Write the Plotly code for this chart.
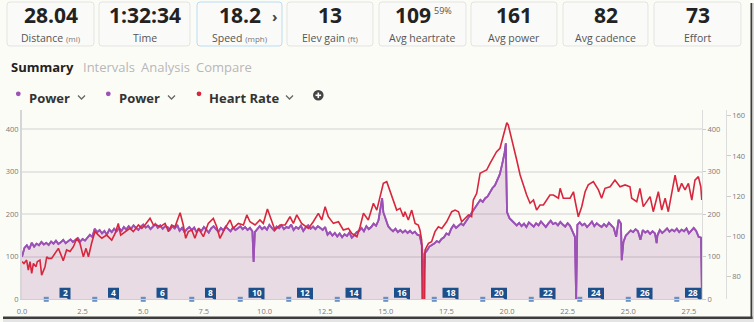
import plotly.graph_objects as go

FIG_W, FIG_H = 754, 322

# ---------------- ride summary tiles ----------------
tile_values = ["28.04", "1:32:34", "18.2", "13", "109", "161", "82", "73"]
tile_labels = ["Distance", "Time", "Speed", "Elev gain", "Avg heartrate", "Avg power", "Avg cadence", "Effort"]
tile_units = ["(mi)", "", "(mph)", "(ft)", "", "", "", ""]
hr_percent = "59%"

# ---------------- tabs / series selector ----------------
tab_names = ["Summary", "Intervals", "Analysis", "Compare"]
series_names = ["Power", "Power", "Heart Rate"]

# ---------------- power (W) sampled every 0.1 mi, 0.0 .. 28.0 ----------------
power_w_grid = [
    100, 121, 127, 118, 133, 124, 131, 127, 135, 129,
    133, 128, 136, 131, 138, 130, 134, 140, 132, 137,
    141, 135, 139, 144, 136, 142, 138, 145, 152, 147,
    166, 158, 163, 155, 161, 152, 164, 158, 166, 160,
    168, 161, 170, 164, 172, 166, 174, 168, 163, 171,
    176, 169, 173, 165, 171, 177, 168, 174, 166, 172,
    170, 164, 172, 167, 175, 161, 168, 158, 165, 170,
    163, 169, 158, 166, 161, 170, 164, 157, 167, 172,
    165, 159, 168, 162, 171, 166, 160, 169, 163, 167,
    172, 165, 170, 163, 168, 160, 158, 166, 172, 165,
    170, 164, 175, 168, 162, 171, 167, 174, 165, 170,
    168, 176, 163, 170, 166, 173, 161, 169, 174, 166,
    171, 165, 172, 168, 163, 170, 152, 158, 150, 156,
    148, 155, 146, 153, 149, 157, 145, 151, 158, 161,
    168, 160, 172, 165, 170, 178, 173, 186, 226, 205,
    186, 172, 165, 160, 166, 158, 163, 157, 162, 156,
    161, 155, 159, 152, 150, 124, 108, 115, 124, 128,
    131, 137, 134, 142, 146, 155, 152, 166, 175, 168,
    172, 178, 174, 183, 190, 198, 210, 216, 228, 234,
    229, 238, 242, 252, 262, 268, 281, 294, 318, 345,
    205, 191, 186, 179, 174, 180, 172, 178, 170, 181,
    175, 171, 179, 174, 183, 176, 170, 178, 185, 177,
    180, 174, 182, 176, 171, 179, 173, 160, 147, 175,
    181, 174, 178, 170, 176, 183, 172, 179, 174, 170,
    177, 171, 180, 174, 168, 147, 187, 178, 135, 150,
    156, 162, 158, 165, 160, 140, 163, 157, 161, 154,
    160, 155, 150, 163, 156, 161, 167, 159, 164, 160,
    166, 158, 164, 160, 167, 155, 163, 168, 161, 147,
    145,
]
# short events between the 0.1 mi samples (dropouts, sprints, stops)
power_event_mi = [9.55, 14.85, 16.55, 19.95, 19.99, 22.85, 24.73, 26.17, 28.02, 28.04]
power_event_w = [88, 238, 0, 367, 218, 0, 92, 132, 85, 0]

# ---------------- heart rate (bpm) ----------------
hr_mi = [
    0.00, 0.08, 0.19, 0.26, 0.33, 0.40, 0.47, 0.58, 0.63, 0.74,
    0.81, 0.95, 1.02, 1.09, 1.22, 1.36, 1.50, 1.64, 1.70, 1.84,
    1.98, 2.12, 2.26, 2.39, 2.53, 2.64, 2.74, 2.87, 3.01, 3.15,
    3.29, 3.49, 3.70, 3.84, 3.97, 4.07, 4.25, 4.45, 4.59, 4.80,
    4.94, 5.07, 5.28, 5.42, 5.55, 5.69, 5.90, 6.04, 6.17, 6.31,
    6.52, 6.65, 6.75, 6.86, 7.00, 7.13, 7.27, 7.48, 7.68, 7.89,
    8.03, 8.16, 8.37, 8.58, 8.71, 8.92, 9.13, 9.27, 9.40, 9.61,
    9.81, 9.95, 10.12, 10.29, 10.43, 10.64, 10.85, 11.05, 11.19, 11.33,
    11.53, 11.81, 12.01, 12.22, 12.36, 12.50, 12.63, 12.84, 13.05, 13.25,
    13.46, 13.60, 13.81, 13.94, 14.08, 14.28, 14.49, 14.63, 14.90, 15.04,
    15.18, 15.31, 15.45, 15.59, 15.73, 15.79, 15.93, 16.07, 16.21, 16.34,
    16.41, 16.48, 16.55, 16.62, 16.76, 16.89, 17.03, 17.17, 17.31, 17.51,
    17.72, 17.86, 18.00, 18.13, 18.27, 18.41, 18.54, 18.61, 18.75, 18.89,
    19.02, 19.16, 19.30, 19.44, 19.57, 19.71, 19.85, 19.99, 20.05, 20.12,
    20.26, 20.40, 20.54, 20.67, 20.81, 20.95, 21.09, 21.22, 21.36, 21.50,
    21.64, 21.77, 21.91, 22.12, 22.19, 22.32, 22.60, 22.74, 22.80, 22.94,
    23.08, 23.22, 23.35, 23.56, 23.77, 23.90, 24.04, 24.25, 24.45, 24.66,
    24.87, 25.07, 25.14, 25.35, 25.48, 25.62, 25.76, 25.90, 26.03, 26.24,
    26.38, 26.52, 26.65, 26.79, 26.93, 27.07, 27.20, 27.34, 27.48, 27.62,
    27.75, 27.89, 27.99, 28.03,
]
hr_bpm = [
    87.5, 86.6, 88.3, 83.3, 87.5, 81.7, 86.6, 85.0, 87.5, 88.3,
    80.8, 85.0, 89.9, 89.1, 89.1, 91.6, 94.1, 89.9, 87.9, 93.3,
    92.5, 94.9, 99.1, 96.6, 89.9, 94.1, 89.9, 96.6, 102.4, 100.7,
    99.1, 100.7, 98.2, 101.5, 106.5, 100.7, 102.4, 104.0, 102.4, 105.7,
    104.0, 105.7, 109.0, 105.7, 105.7, 104.8, 106.5, 102.4, 105.7, 104.8,
    111.8, 105.7, 99.1, 102.4, 103.2, 99.1, 104.0, 99.9, 106.5, 109.0,
    104.8, 99.1, 104.0, 108.2, 104.0, 106.5, 105.7, 110.7, 107.3, 105.7,
    108.2, 106.5, 113.6, 107.3, 103.2, 105.7, 105.7, 109.8, 106.5, 110.7,
    106.5, 104.0, 107.3, 111.5, 108.2, 114.8, 109.8, 106.5, 107.3, 103.2,
    104.0, 101.5, 99.9, 104.8, 111.5, 108.2, 116.5, 113.1, 126.4, 127.2,
    122.2, 118.1, 113.1, 114.0, 109.8, 112.3, 108.2, 113.1, 106.5, 105.7,
    103.2, 98.2, 0.0, 93.3, 96.6, 97.4, 102.4, 104.8, 104.0, 107.3,
    112.3, 113.1, 112.3, 107.3, 109.0, 110.7, 109.8, 118.1, 121.4, 131.4,
    132.2, 133.0, 136.3, 139.6, 142.1, 143.8, 149.6, 156.5, 155.4, 152.0,
    146.3, 138.0, 130.5, 125.6, 120.6, 116.5, 118.1, 113.1, 115.6, 115.6,
    118.5, 120.6, 120.6, 119.0, 123.9, 119.0, 119.0, 122.2, 118.1, 109.8,
    114.8, 122.2, 125.6, 127.2, 123.1, 119.0, 123.9, 124.7, 128.0, 124.7,
    125.6, 124.7, 119.0, 117.3, 123.9, 114.8, 117.3, 119.8, 112.3, 122.2,
    113.1, 119.0, 112.3, 121.4, 130.5, 122.2, 126.4, 123.1, 126.4, 118.1,
    128.0, 129.7, 124.7, 118.1,
]

# ---------------- laps (mile splits) ----------------
lap_miles = list(range(1, 29))
total_miles = 28.04

# axis settings
power_ticks = [0, 100, 200, 300, 400]
hr_ticks = [80, 100, 120, 140, 160]
dist_ticks = [0, 2.5, 5, 7.5, 10, 12.5, 15, 17.5, 20, 22.5, 25, 27.5]
power_range = [0, 445.4]
hr_range = [68.8, 162.8]

# merge the regular power samples with the events
power_pairs = [(round(i * 0.1, 1), w) for i, w in enumerate(power_w_grid)]
power_pairs += list(zip(power_event_mi, power_event_w))
power_pairs.sort(key=lambda p: p[0])
power_mi = [p[0] for p in power_pairs]
power_w = [p[1] for p in power_pairs]

# ---------------- styling ----------------
BG = "#fcfcf7"
FONT = "Open Sans"
PURPLE = "#9b51b5"
RED = "#d7263d"
LAP_BLUE = "#1d4f8a"
TICK_GREY = "#7a7a7a"


def px(x):
    return x / FIG_W


def py(y):
    return 1 - y / FIG_H


def rounded_box(x0, y0, x1, y1, r=3):
    return (
        f"M {px(x0 + r)},{py(y0)} L {px(x1 - r)},{py(y0)} Q {px(x1)},{py(y0)} {px(x1)},{py(y0 + r)} "
        f"L {px(x1)},{py(y1 - r)} Q {px(x1)},{py(y1)} {px(x1 - r)},{py(y1)} "
        f"L {px(x0 + r)},{py(y1)} Q {px(x0)},{py(y1)} {px(x0)},{py(y1 - r)} "
        f"L {px(x0)},{py(y0 + r)} Q {px(x0)},{py(y0)} {px(x0 + r)},{py(y0)} Z"
    )


def text(x, y, s, size, color, weight=400, xanchor="center", yanchor="middle"):
    return dict(
        x=px(x), y=py(y), xref="paper", yref="paper", text=s, showarrow=False,
        xanchor=xanchor, yanchor=yanchor, borderpad=0,
        font=dict(family=FONT, size=size, color=color, weight=weight),
    )


fig = go.Figure()

# power with filled area (left axis)
fig.add_trace(go.Scatter(
    x=power_mi, y=power_w, mode="lines", xaxis="x", yaxis="y",
    line=dict(color=PURPLE, width=1.8), fill="tozeroy",
    fillcolor="rgba(150,70,140,0.18)", hoverinfo="skip",
))
# odd-mile lap pins on the distance axis
fig.add_trace(go.Scatter(
    x=[m for m in lap_miles if m % 2 == 1], y=[0] * 14, mode="markers",
    xaxis="x", yaxis="y", cliponaxis=False,
    marker=dict(symbol="square", size=5, color="#6a8fc2"), hoverinfo="skip",
))
# second power series (right inner axis)
fig.add_trace(go.Scatter(
    x=power_mi, y=power_w, mode="lines", xaxis="x", yaxis="y2",
    line=dict(color=PURPLE, width=1.8), hoverinfo="skip",
))
# heart rate (right outer axis)
fig.add_trace(go.Scatter(
    x=hr_mi, y=hr_bpm, mode="lines", xaxis="x", yaxis="y3",
    line=dict(color=RED, width=1.6), hoverinfo="skip",
))

shapes = []
annotations = []

# summary tiles: big value above a small caption
tile_left = [7, 99, 197, 287, 379, 471, 563, 654]
tile_right = [94, 190, 282, 373, 466, 557, 648, 741]
for i, (v, lab, unit) in enumerate(zip(tile_values, tile_labels, tile_units)):
    x0, x1 = tile_left[i], tile_right[i]
    border = "#b8dcf2" if lab == "Speed" else "#e3e3e1"
    shapes.append(dict(type="path", path=rounded_box(x0, 2, x1, 46), xref="paper", yref="paper",
                       line=dict(color=border, width=1), fillcolor="#fafaf9", layer="below"))
    cx = (x0 + x1) / 2
    if lab == "Avg heartrate":
        annotations.append(text(cx - 9.5, 29.6, v, 21, "#222222", 700, yanchor="bottom"))
        annotations.append(text(443, 10.5, hr_percent, 9, "#555555"))
    else:
        annotations.append(text(cx, 29.6, v, 21, "#222222", 700, yanchor="bottom"))
    cap_txt = lab if not unit else f"{lab} <span style='font-size:8px;color:#777777'>{unit}</span>"
    annotations.append(text(cx, 29.9, cap_txt, 10.5, "#555555", yanchor="top"))
annotations.append(text(274.5, 16, "›", 15, "#444444", 700))

# tabs
tab_x = [10, 81.5, 140, 195]
for name, x in zip(tab_names, tab_x):
    first = name == "Summary"
    annotations.append(text(x, 66.5, name, 13, "#222222" if first else "#b7b7b7",
                            700 if first else 400, xanchor="left"))

# series selector
sel_dot_x = [18.3, 108.3, 199]
sel_txt_x = [28, 118, 208]
sel_chev_x = [78, 168, 286]
sel_colors = [PURPLE, PURPLE, RED]
for name, dx, tx, cx, col in zip(series_names, sel_dot_x, sel_txt_x, sel_chev_x, sel_colors):
    shapes.append(dict(type="circle", xref="paper", yref="paper",
                       x0=px(dx - 2.4), x1=px(dx + 2.4), y0=py(96.2), y1=py(91.4),
                       fillcolor=col, line=dict(width=0)))
    annotations.append(text(tx, 97.5, name, 13, "#333333", 700, xanchor="left"))
    shapes.append(dict(type="path", xref="paper", yref="paper",
                       path=f"M {px(cx)},{py(95.5)} L {px(cx + 3.5)},{py(99)} L {px(cx + 7)},{py(95.5)}",
                       line=dict(color="#666666", width=1.3)))
# add-series button
shapes.append(dict(type="circle", xref="paper", yref="paper",
                   x0=px(313), x1=px(323.6), y0=py(100.6), y1=py(90),
                   fillcolor="#454545", line=dict(width=0)))
shapes.append(dict(type="line", xref="paper", yref="paper", x0=px(315.5), x1=px(321.1),
                   y0=py(95.3), y1=py(95.3), line=dict(color="white", width=1.6)))
shapes.append(dict(type="line", xref="paper", yref="paper", x0=px(318.3), x1=px(318.3),
                   y0=py(92.5), y1=py(98.1), line=dict(color="white", width=1.6)))

# even-mile lap callouts anchored on the distance axis
for m in lap_miles:
    if m % 2:
        continue
    w = 11 if m < 10 else 16
    shapes.append(dict(
        type="path", xref="x", yref="y", xsizemode="pixel", ysizemode="pixel",
        xanchor=m, yanchor=0,
        path=f"M {-w},11.5 L 0,11.5 L 0,-2 L -4,1.5 L {-w},1.5 Z",
        fillcolor=LAP_BLUE, line=dict(width=0), layer="above",
    ))
    annotations.append(dict(
        x=m, y=0, xref="x", yref="y", text=str(m), showarrow=False,
        xanchor="center", yanchor="middle", xshift=-w / 2, yshift=6.5, borderpad=0,
        font=dict(family=FONT, size=8.5, color="white", weight=700),
    ))

# drop shadow along the right and bottom edges
shapes += [
    dict(type="rect", xref="paper", yref="paper", x0=px(750.5), x1=px(752.5), y0=py(319), y1=py(3),
         fillcolor="#3c3c3c", line=dict(width=0)),
    dict(type="rect", xref="paper", yref="paper", x0=px(752.5), x1=1, y0=py(320), y1=py(3),
         fillcolor="#d9d9d9", line=dict(width=0)),
    dict(type="rect", xref="paper", yref="paper", x0=px(3), x1=px(752.5), y0=py(319), y1=py(316.5),
         fillcolor="#3c3c3c", line=dict(width=0)),
    dict(type="rect", xref="paper", yref="paper", x0=px(3), x1=1, y0=0, y1=py(319),
         fillcolor="#e4e4e4", line=dict(width=0)),
]

tick_font = dict(family=FONT, size=7.5, color=TICK_GREY)
x_dom = [px(22), px(702)]
y_dom = [py(299.3), py(110)]

fig.update_layout(
    width=FIG_W, height=FIG_H, autosize=False,
    margin=dict(l=0, r=0, t=0, b=0, pad=0, autoexpand=False),
    paper_bgcolor=BG, plot_bgcolor=BG, showlegend=False,
    xaxis=dict(domain=x_dom, range=[0, total_miles], tickvals=dist_ticks,
               ticktext=[f"{t:.1f}" for t in dist_ticks], tickfont=tick_font,
               showgrid=False, zeroline=False, showline=True, linecolor="#cfcfcf",
               linewidth=1, ticks="", ticklabelstandoff=5, fixedrange=True, automargin=False),
    yaxis=dict(domain=y_dom, range=power_range, tickvals=power_ticks, tickfont=tick_font,
               showgrid=True, gridcolor="#e6e6e4", gridwidth=1.5, zeroline=False,
               showline=True, linecolor="#d6d6d6", linewidth=2, ticks="", fixedrange=True,
               automargin=False),
    yaxis2=dict(domain=y_dom, range=power_range, tickvals=power_ticks, tickfont=tick_font,
                overlaying="y", side="right", anchor="x", showgrid=False, zeroline=False,
                showline=True, linecolor="#dcdcdc", linewidth=1, ticks="outside",
                ticklen=3, tickcolor="#cccccc", fixedrange=True, automargin=False),
    yaxis3=dict(domain=y_dom, range=hr_range, tickvals=hr_ticks, tickfont=tick_font,
                overlaying="y", side="right", anchor="free", position=px(725.7),
                showgrid=False, zeroline=False, showline=True, linecolor="#dcdcdc",
                linewidth=1, ticks="outside", ticklen=4, tickcolor="#cccccc", fixedrange=True,
                automargin=False),
    shapes=shapes,
    annotations=annotations,
)

fig.write_html("out.html", config={"displayModeBar": False})
